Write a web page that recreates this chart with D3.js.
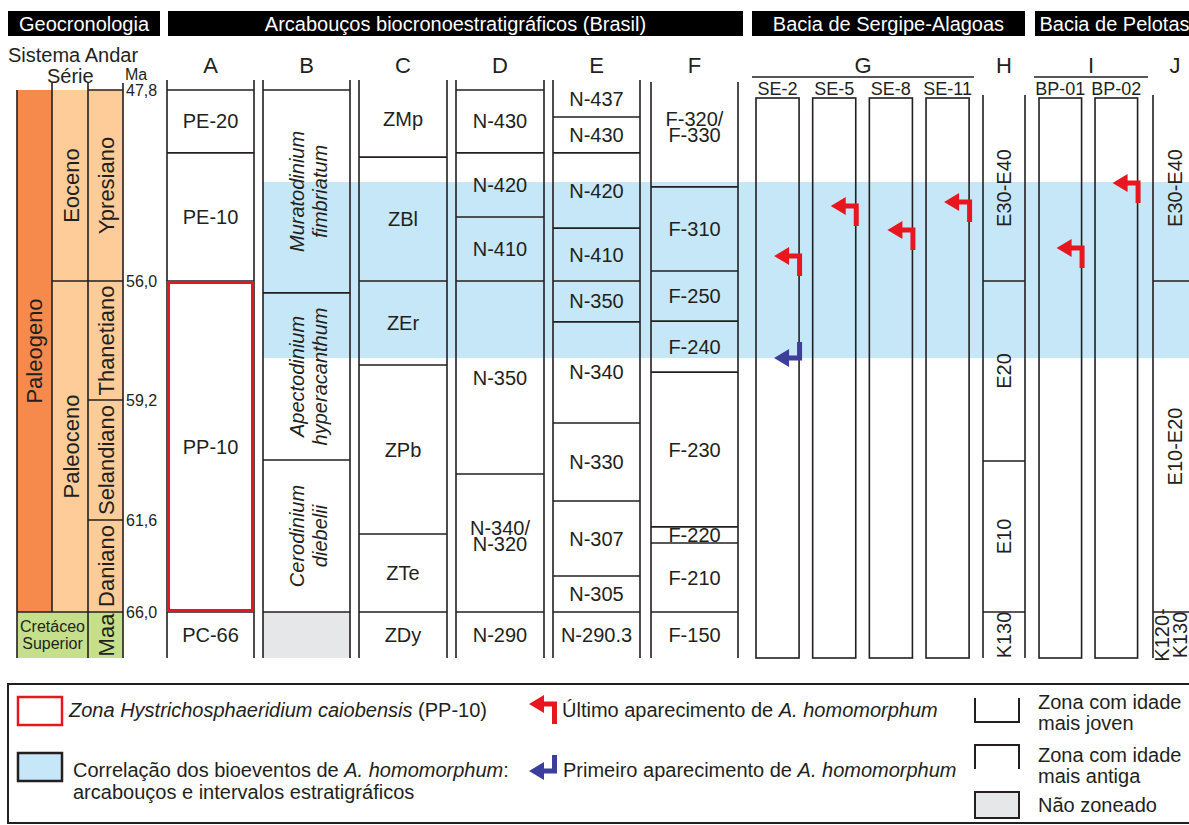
<!DOCTYPE html>
<html><head><meta charset="utf-8">
<script src="https://cdn.jsdelivr.net/npm/d3@7"></script>
<style>
body{margin:0;background:#fff;}
svg text{font-family:"Liberation Sans", Arial, Helvetica, sans-serif;fill:#231f20;}
</style>
</head><body>
<svg id="c" width="1189" height="825"></svg>
<script>
// ---------------- DATA ----------------
const maTicks = [47.8, 56.0, 59.2, 61.6, 66.0];
const maBottom = 68.0;

const headerTitles = ["Geocronologia", "Arcabouços biocronoestratigráficos (Brasil)", "Bacia de Sergipe-Alagoas", "Bacia de Pelotas"];
const columnLetters = ["A", "B", "C", "D", "E", "F", "G", "H", "I", "J"];

const sistema = [
  {name: "Paleogeno", top: 47.8, base: 66.0, k: "pg"},
  {name: "Cretáceo\nSuperior", top: 66.0, base: 68.0, k: "kr"}
];
const serie = [
  {name: "Eoceno", top: 47.8, base: 56.0},
  {name: "Paleoceno", top: 56.0, base: 66.0}
];
const andar = [
  {name: "Ypresiano", top: 47.8, base: 56.0},
  {name: "Thanetiano", top: 56.0, base: 59.2},
  {name: "Selandiano", top: 59.2, base: 61.6},
  {name: "Daniano", top: 61.6, base: 66.0},
  {name: "Maa", top: 66.0, base: 68.0}
];

const zonesA = [
  {name: "PE-20", top: 47.8, base: 50.5},
  {name: "PE-10", top: 50.5, base: 56.0},
  {name: "PP-10", top: 56.0, base: 66.0},
  {name: "PC-66", top: 66.0, base: 68.0}
];
const zonesB = [
  {name: "Muratodinium\nfimbriatum", top: 47.8, base: 56.32},
  {name: "Apectodinium\nhyperacanthum", top: 56.32, base: 60.4},
  {name: "Cerodinium\ndiebelii", top: 60.4, base: 66.0},
  {name: null, top: 66.0, base: 68.0}
];
const zonesC = [
  {name: "ZMp", top: null, base: 50.68},
  {name: "ZBl", top: 50.68, base: 56.0},
  {name: "ZEr", top: 56.0, base: 58.26},
  {name: "ZPb", top: 58.26, base: 62.27},
  {name: "ZTe", top: 62.27, base: 66.0},
  {name: "ZDy", top: 66.0, base: 68.0}
];
const zonesD = [
  {name: "N-430", top: 47.8, base: 50.5},
  {name: "N-420", top: 50.5, base: 53.25},
  {name: "N-410", top: 53.25, base: 56.0},
  {name: "N-350", top: 56.0, base: 60.68},
  {name: "N-340/\nN-320", top: 60.68, base: 66.0},
  {name: "N-290", top: 66.0, base: 68.0}
];
const zonesE = [
  {name: "N-437", top: null, base: 48.96},
  {name: "N-430", top: 48.96, base: 50.5},
  {name: "N-420", top: 50.5, base: 53.73},
  {name: "N-410", top: 53.73, base: 56.0},
  {name: "N-350", top: 56.0, base: 57.10},
  {name: "N-340", top: 57.10, base: 59.66},
  {name: "N-330", top: 59.66, base: 61.22},
  {name: "N-307", top: 61.22, base: 64.28},
  {name: "N-305", top: 64.28, base: 66.0},
  {name: "N-290.3", top: 66.0, base: 68.0}
];
const zonesF = [
  {name: "F-320/\nF-330", top: null, base: 51.96},
  {name: "F-310", top: 51.96, base: 55.57},
  {name: "F-250", top: 55.57, base: 57.08},
  {name: "F-240", top: 57.08, base: 58.45},
  {name: "F-230", top: 58.45, base: 61.93},
  {name: "F-220", top: 61.93, base: 62.70},
  {name: "F-210", top: 62.70, base: 66.0},
  {name: "F-150", top: 66.0, base: 68.0}
];
const zonesH = [
  {name: "E30-E40", top: null, base: 56.0},
  {name: "E20", top: 56.0, base: 60.42},
  {name: "E10", top: 60.42, base: 66.0},
  {name: "K130", top: 66.0, base: 68.0}
];
const zonesJ = [
  {name: "E30-E40", top: null, base: 56.0},
  {name: "E10-E20", top: 56.0, base: 66.0},
  {name: "K120-\nK130", top: 66.0, base: 68.0}
];

const wellsSE = ["SE-2", "SE-5", "SE-8", "SE-11"];
const wellsBP = ["BP-01", "BP-02"];
const lastAppearance = [
  {well: "SE-2", age: 54.93},
  {well: "SE-5", age: 52.78},
  {well: "SE-8", age: 53.81},
  {well: "SE-11", age: 52.61},
  {well: "BP-01", age: 54.58},
  {well: "BP-02", age: 51.79}
];
const firstAppearance = [{well: "SE-2", age: 58.07}];
const correlationBand = [51.75, 58.07];

const legendTexts = {
  pp10: [{t: "Zona Hystrichosphaeridium caiobensis", i: true}, {t: " (PP-10)", i: false}],
  band1: [{t: "Correlação dos bioeventos de ", i: false}, {t: "A. homomorphum", i: true}, {t: ":", i: false}],
  band2: " arcabouços e intervalos estratigráficos",
  lad: [{t: "Último aparecimento de ", i: false}, {t: "A. homomorphum", i: true}],
  fad: [{t: "Primeiro aparecimento de ", i: false}, {t: "A. homomorphum", i: true}],
  young: ["Zona com idade", "mais joven"],
  old: ["Zona com idade", "mais antiga"],
  unz: "Não zoneado"
};

// ---------------- LAYOUT ----------------
const INK = "#231f20", RED = "#e8161e", BLUE = "#3d3d9b", BAND = "#c5e7f8";
const svg = d3.select("#c");
const y = d3.scaleLinear().domain([...maTicks, maBottom]).range([90, 281, 400, 520, 612, 658]);
const BOTTOM = y(maBottom);

function line(g, x1, y1, x2, y2, w, col) {
  return g.append("line").attr("x1", x1).attr("y1", y1).attr("x2", x2).attr("y2", y2)
    .attr("stroke", col || INK).attr("stroke-width", w || 1.6);
}

// correlation band (behind everything)
svg.append("rect").attr("x", 263).attr("width", 1189 - 263)
  .attr("y", y(correlationBand[0])).attr("height", y(correlationBand[1]) - y(correlationBand[0]))
  .attr("fill", BAND);

// header bars
const headerLayout = [[8, 160], [168, 743], [752, 1025], [1035, 1200]];
const hb = svg.append("g").selectAll("g").data(headerTitles).join("g");
hb.append("rect").attr("x", (d, i) => headerLayout[i][0]).attr("y", 11)
  .attr("width", (d, i) => headerLayout[i][1] - headerLayout[i][0]).attr("height", 25).attr("fill", "#000");
hb.append("text").attr("x", (d, i) => (headerLayout[i][0] + headerLayout[i][1]) / 2 + (i === 3 ? -3 : 0)).attr("y", 24)
  .attr("text-anchor", "middle").attr("dominant-baseline", "central").style("fill", "#fff")
  .attr("font-size", 20).text(d => d);

// geochronology columns
const GX = [17, 52, 88, 123];
const geo = svg.append("g");
const peach = "#fdcc99", orange = "#f58a4c", green = "#c5df8b";
geo.selectAll("rect.sis").data(sistema).join("rect")
  .attr("x", GX[0]).attr("width", d => d.k === "kr" ? GX[2] - GX[0] : GX[1] - GX[0])
  .attr("y", d => y(d.top)).attr("height", d => y(d.base) - y(d.top))
  .attr("fill", d => d.k === "kr" ? green : orange);
geo.selectAll("rect.ser").data(serie).join("rect")
  .attr("x", GX[1]).attr("width", GX[2] - GX[1])
  .attr("y", d => y(d.top)).attr("height", d => y(d.base) - y(d.top)).attr("fill", peach);
geo.selectAll("rect.and").data(andar).join("rect")
  .attr("x", GX[2]).attr("width", GX[3] - GX[2])
  .attr("y", d => y(d.top)).attr("height", d => y(d.base) - y(d.top))
  .attr("fill", d => d.top >= 66 ? green : peach);
// geochron lines
line(geo, GX[0], y(47.8), GX[0], BOTTOM);
line(geo, GX[1], 83, GX[1], y(66));
line(geo, GX[2], 83, GX[2], BOTTOM);
line(geo, GX[3], 83, GX[3], BOTTOM);
line(geo, GX[2], y(47.8), GX[3], y(47.8));
serie.slice(1).forEach(d => line(geo, GX[1], y(d.top), GX[3], y(d.top)));
andar.slice(1).forEach(d => {
  if (d.top === 66) line(geo, GX[0], y(d.top), GX[3], y(d.top));
  else if (d.top !== 56) line(geo, GX[2], y(d.top), GX[3], y(d.top));
});
// rotated labels
function rotLabel(g, cx, cy, txt, size, italic, gap) {
  const lines = txt.split("\n");
  lines.forEach((l, i) => {
    const off = (i - (lines.length - 1) / 2) * (gap || 22);
    g.append("text").attr("transform", `translate(${cx + off},${cy}) rotate(-90)`)
      .attr("text-anchor", "middle").attr("dominant-baseline", "central")
      .attr("font-size", size).attr("font-style", italic ? "italic" : null).text(l);
  });
}
rotLabel(geo, (GX[0] + GX[1]) / 2, (y(sistema[0].top) + y(sistema[0].base)) / 2, sistema[0].name, 22);
sistema.slice(1).forEach(d => {
  d.name.split("\n").forEach((l, i) => geo.append("text").attr("x", (GX[0] + GX[2]) / 2)
    .attr("y", (y(d.top) + y(d.base)) / 2 + (i - 0.5) * 16.5).attr("text-anchor", "middle")
    .attr("dominant-baseline", "central").attr("font-size", 16).text(l));
});
serie.forEach(d => rotLabel(geo, (GX[1] + GX[2]) / 2 + 1, (y(d.top) + y(d.base)) / 2, d.name, 22));
andar.forEach(d => rotLabel(geo, (GX[2] + GX[3]) / 2 + 1, (y(d.top) + y(d.base)) / 2, d.name, 22));

// Ma axis
const axis = d3.axisRight(y).tickValues(maTicks).tickSize(0).tickPadding(3)
  .tickFormat(d => d3.format(".1f")(d).replace(".", ","));
const ax = svg.append("g").attr("transform", `translate(${GX[3]},0)`).call(axis);
ax.select(".domain").remove();
ax.selectAll("text").attr("font-size", 16).style("font-family", '"Liberation Sans", Arial, sans-serif').style("fill", INK);

// geochron headers
svg.append("text").attr("x", 8).attr("y", 62).attr("font-size", 20).text("Sistema Andar");
svg.append("text").attr("x", 47).attr("y", 83).attr("font-size", 20).text("Série");
svg.append("text").attr("x", 125).attr("y", 80).attr("font-size", 16).text("Ma");

// zone columns
const colLayout = {
  A: {x: [167, 254], top: 80}, B: {x: [263, 350], top: 80}, C: {x: [359, 447], top: 80},
  D: {x: [456, 544], top: 80}, E: {x: [553, 640], top: 80}, F: {x: [651, 738], top: 82},
  H: {x: [983, 1025], top: 95, rot: true}, J: {x: [1153, 1197], top: 95, rot: true}
};
function drawColumn(zones, L, italic) {
  const g = svg.append("g");
  const [x0, x1] = L.x;
  g.selectAll("rect").data(zones.filter(z => z.name === null)).join("rect")
    .attr("x", x0).attr("width", x1 - x0).attr("y", d => y(d.top)).attr("height", d => y(d.base) - y(d.top))
    .attr("fill", "#e6e7e8");
  [x0, x1].forEach(x => line(g, x, L.top, x, BOTTOM));
  zones.filter(z => z.top !== null).forEach(z => line(g, x0, y(z.top), x1, y(z.top)));
  zones.forEach(z => {
    if (!z.name) return;
    const t = z.top === null ? L.top : y(z.top), b = y(z.base);
    const cy = (t + b) / 2, cx = (x0 + x1) / 2;
    if (L.rot || italic) {
      rotLabel(g, cx + (italic ? 2 : (L.rot && z.name.includes("\n") ? -4 : 0)), cy, z.name, 20, italic, italic ? 23 : 18);
    } else {
      const lines = z.name.split("\n");
      lines.forEach((l, i) => g.append("text").attr("x", cx)
        .attr("y", cy + (i - (lines.length - 1) / 2) * 16 - (lines.length > 1 ? 7 : 0))
        .attr("text-anchor", "middle").attr("dominant-baseline", "central").attr("font-size", 20).text(l));
    }
  });
  return g;
}
drawColumn(zonesA, colLayout.A);
drawColumn(zonesB, colLayout.B, true);
drawColumn(zonesC, colLayout.C);
drawColumn(zonesD, colLayout.D);
drawColumn(zonesE, colLayout.E);
drawColumn(zonesF, colLayout.F);
drawColumn(zonesH, colLayout.H);
drawColumn(zonesJ, colLayout.J);

// PP-10 red outline
const pp = zonesA.find(z => z.name === "PP-10");
svg.append("rect").attr("x", colLayout.A.x[0] + 1.5).attr("y", y(pp.top) + 1.5)
  .attr("width", colLayout.A.x[1] - colLayout.A.x[0] - 3).attr("height", y(pp.base) - y(pp.top) - 3)
  .attr("fill", "none").attr("stroke", RED).attr("stroke-width", 3);

// wells
const xSE = d3.scaleBand().domain(wellsSE).range([749.2, 975.9]).paddingInner(0.24).paddingOuter(0.12);
const xBP = d3.scaleBand().domain(wellsBP).range([1032.3, 1144.3]).paddingInner(0.24).paddingOuter(0.12);
const WTOP = 98;
function drawWells(scale, wells) {
  svg.append("g").selectAll("rect").data(wells).join("rect")
    .attr("x", d => scale(d)).attr("y", WTOP).attr("width", scale.bandwidth()).attr("height", BOTTOM - WTOP)
    .attr("fill", "none").attr("stroke", INK).attr("stroke-width", 1.6);
  svg.append("g").selectAll("text").data(wells).join("text")
    .attr("x", d => scale(d) + scale.bandwidth() / 2).attr("y", 95).attr("text-anchor", "middle")
    .attr("font-size", 18).text(d => d);
}
drawWells(xSE, wellsSE);
drawWells(xBP, wellsBP);
// group underlines
line(svg, 752, 77, 974, 77);
line(svg, 1034, 77, 1148, 77);

// column letters
const letterX = {
  A: 210.5, B: 306.5, C: 403, D: 500, E: 596.5, F: 694.5, G: 863, H: 1004, I: 1091, J: 1175
};
svg.append("g").selectAll("text").data(columnLetters).join("text")
  .attr("x", d => letterX[d]).attr("y", 73).attr("text-anchor", "middle").attr("font-size", 22).text(d => d);

// arrows
function ladPath(sx, yy) {
  const tip = sx - 28, hb = tip + 15;
  return `M${tip},${yy}L${hb},${yy - 9}L${hb},${yy - 2.5}L${sx},${yy - 2.5}L${sx},${yy + 20}L${sx - 5},${yy + 20}L${sx - 5},${yy + 2.5}L${hb},${yy + 2.5}L${hb},${yy + 9}Z`;
}
function fadPath(sx, yy) {
  const tip = sx - 28, hb = tip + 15;
  return `M${tip},${yy}L${hb},${yy + 9}L${hb},${yy + 2.5}L${sx},${yy + 2.5}L${sx},${yy - 16}L${sx - 5},${yy - 16}L${sx - 5},${yy - 2.5}L${hb},${yy - 2.5}L${hb},${yy - 9}Z`;
}
function wellRight(w) {
  const s = wellsSE.includes(w) ? xSE : xBP;
  return s(w) + s.bandwidth() + 3;
}
svg.append("g").selectAll("path").data(lastAppearance).join("path")
  .attr("d", d => ladPath(wellRight(d.well), y(d.age))).attr("fill", RED);
svg.append("g").selectAll("path").data(firstAppearance).join("path")
  .attr("d", d => fadPath(wellRight(d.well), y(d.age))).attr("fill", BLUE);

// ---------------- LEGEND ----------------
const lg = svg.append("g");
lg.append("rect").attr("x", 8).attr("y", 684).attr("width", 1195).attr("height", 139)
  .attr("fill", "none").attr("stroke", INK).attr("stroke-width", 2);
function richText(x, yy, parts) {
  const t = lg.append("text").attr("x", x).attr("y", yy).attr("font-size", 20);
  parts.forEach(p => t.append("tspan").attr("font-style", p.i ? "italic" : null).text(p.t));
  return t;
}
lg.append("rect").attr("x", 18).attr("y", 697).attr("width", 44).attr("height", 28)
  .attr("fill", "#fff").attr("stroke", RED).attr("stroke-width", 2.5);
richText(69, 717, legendTexts.pp10);
lg.append("rect").attr("x", 18).attr("y", 753).attr("width", 44).attr("height", 28)
  .attr("fill", BAND).attr("stroke", INK).attr("stroke-width", 2.5);
richText(73, 777, legendTexts.band1);
lg.append("text").attr("x", 73).attr("y", 799).attr("font-size", 20).text(legendTexts.band2);

lg.append("path").attr("d", ladPath(557, 704)).attr("fill", RED);
richText(562, 717, legendTexts.lad);
lg.append("path").attr("d", fadPath(557, 771)).attr("fill", BLUE);
richText(563, 777, legendTexts.fad);

const bx0 = 975, bx1 = 1019;
lg.append("path").attr("d", `M${bx0},698V722H${bx1}V698`).attr("fill", "none").attr("stroke", INK).attr("stroke-width", 2);
lg.append("path").attr("d", `M${bx0},769V745H${bx1}V769`).attr("fill", "none").attr("stroke", INK).attr("stroke-width", 2);
lg.append("rect").attr("x", bx0).attr("y", 792).attr("width", bx1 - bx0).attr("height", 26)
  .attr("fill", "#e6e7e8").attr("stroke", INK).attr("stroke-width", 2);
legendTexts.young.forEach((s, i) => lg.append("text").attr("x", 1038).attr("y", 709 + i * 21).attr("font-size", 20).text(s));
legendTexts.old.forEach((s, i) => lg.append("text").attr("x", 1038).attr("y", 762 + i * 21).attr("font-size", 20).text(s));
lg.append("text").attr("x", 1038).attr("y", 812).attr("font-size", 20).text(legendTexts.unz);
</script>
</body></html>
